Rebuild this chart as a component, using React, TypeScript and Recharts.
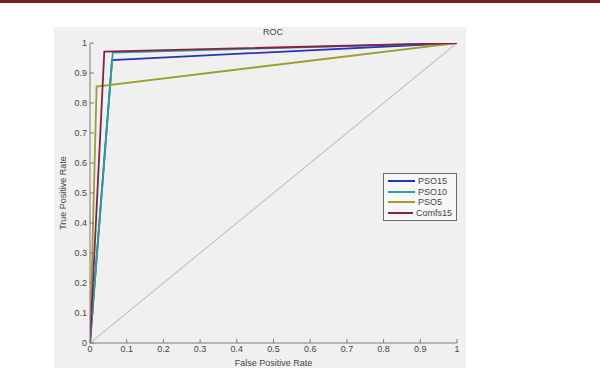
import { LineChart, Line, XAxis, YAxis } from "recharts";

const ticks = [0, 0.1, 0.2, 0.3, 0.4, 0.5, 0.6, 0.7, 0.8, 0.9, 1];

const fprPSO15 = [0, 0.06, 1];
const tprPSO15 = [0, 0.943, 1];
const fprPSO10 = [0, 0.062, 1];
const tprPSO10 = [0, 0.968, 1];
const fprPSO5 = [0, 0.018, 1];
const tprPSO5 = [0, 0.855, 1];
const fprComfs15 = [0, 0.039, 1];
const tprComfs15 = [0, 0.971, 1];
const fprChance = [0, 1];
const tprChance = [0, 1];

const toPoints = (xs: number[], ys: number[]) => xs.map((x, i) => ({ x, y: ys[i] }));

const series = [
	{ name: "PSO15", color: "#2a33b8", data: toPoints(fprPSO15, tprPSO15) },
	{ name: "PSO10", color: "#1fa89a", data: toPoints(fprPSO10, tprPSO10) },
	{ name: "PSO5", color: "#9c9f2e", data: toPoints(fprPSO5, tprPSO5) },
	{ name: "Comfs15", color: "#8c1f4a", data: toPoints(fprComfs15, tprComfs15) },
];

const font = "'Liberation Sans', Arial, sans-serif";
const axisGray = "#7a7a7a";
const textGray = "#454545";

function LegendBox() {
	return (
		<div
			style={{
				position: "absolute",
				left: 383,
				top: 173,
				border: "1px solid #6a6a6a",
				background: "#f7f7f7",
				padding: "2px 4px",
				fontFamily: font,
				fontSize: 9,
				color: textGray,
				width: 64,
			}}
		>
			{series.map((s) => (
				<div key={s.name} style={{ display: "flex", alignItems: "center", height: 10.5 }}>
					<div style={{ width: 27, height: 2, background: s.color, marginRight: 3 }} />
					<span>{s.name}</span>
				</div>
			))}
		</div>
	);
}

export default function App() {
	return (
		<div style={{ position: "absolute", left: 0, top: 0, width: 600, height: 378, background: "#fff", overflow: "hidden" }}>
			<div style={{ position: "absolute", left: 0, top: 0, width: 600, height: 3, background: "#6e1f24" }} />
			<div style={{ position: "absolute", left: 54, top: 27, width: 412, height: 341, background: "#f0f0f0" }} />
			<div
				style={{
					position: "absolute",
					left: 0,
					top: 27,
					width: 600,
					textAlign: "center",
					paddingRight: 54,
					boxSizing: "border-box",
					fontFamily: font,
					fontSize: 9,
					color: textGray,
				}}
			>
				ROC
			</div>
			<div style={{ position: "absolute", left: 0, top: 0 }}>
				<LineChart width={600} height={378} margin={{ top: 43, right: 143, bottom: 15, left: 60 }}>
					<XAxis
						type="number"
						dataKey="x"
						domain={[0, 1]}
						ticks={ticks}
						height={20}
						tickSize={-4}
						tickMargin={7}
						stroke={axisGray}
						tick={{ fill: textGray, fontSize: 9, fontFamily: font }}
						label={{ value: "False Positive Rate", position: "insideBottom", offset: -3, fill: textGray, fontSize: 9, fontFamily: font }}
						allowDataOverflow
					/>
					<YAxis
						type="number"
						dataKey="y"
						domain={[0, 1]}
						ticks={ticks}
						width={30}
						tickSize={-4}
						tickMargin={7}
						stroke={axisGray}
						tick={{ fill: textGray, fontSize: 9, fontFamily: font }}
						label={{ value: "True Positive Rate", angle: -90, position: "insideLeft", offset: 3, fill: textGray, fontSize: 9, fontFamily: font, style: { textAnchor: "middle" } }}
						allowDataOverflow
					/>
					<Line
						data={toPoints(fprChance, tprChance)}
						dataKey="y"
						stroke="#c4c4c4"
						strokeWidth={1.2}
						dot={false}
						legendType="none"
						isAnimationActive={false}
					/>
					{series.map((s) => (
						<Line
							key={s.name}
							name={s.name}
							data={s.data}
							dataKey="y"
							stroke={s.color}
							strokeWidth={1.8}
							dot={false}
							isAnimationActive={false}
						/>
					))}
				</LineChart>
			</div>
			<LegendBox />
		</div>
	);
}
